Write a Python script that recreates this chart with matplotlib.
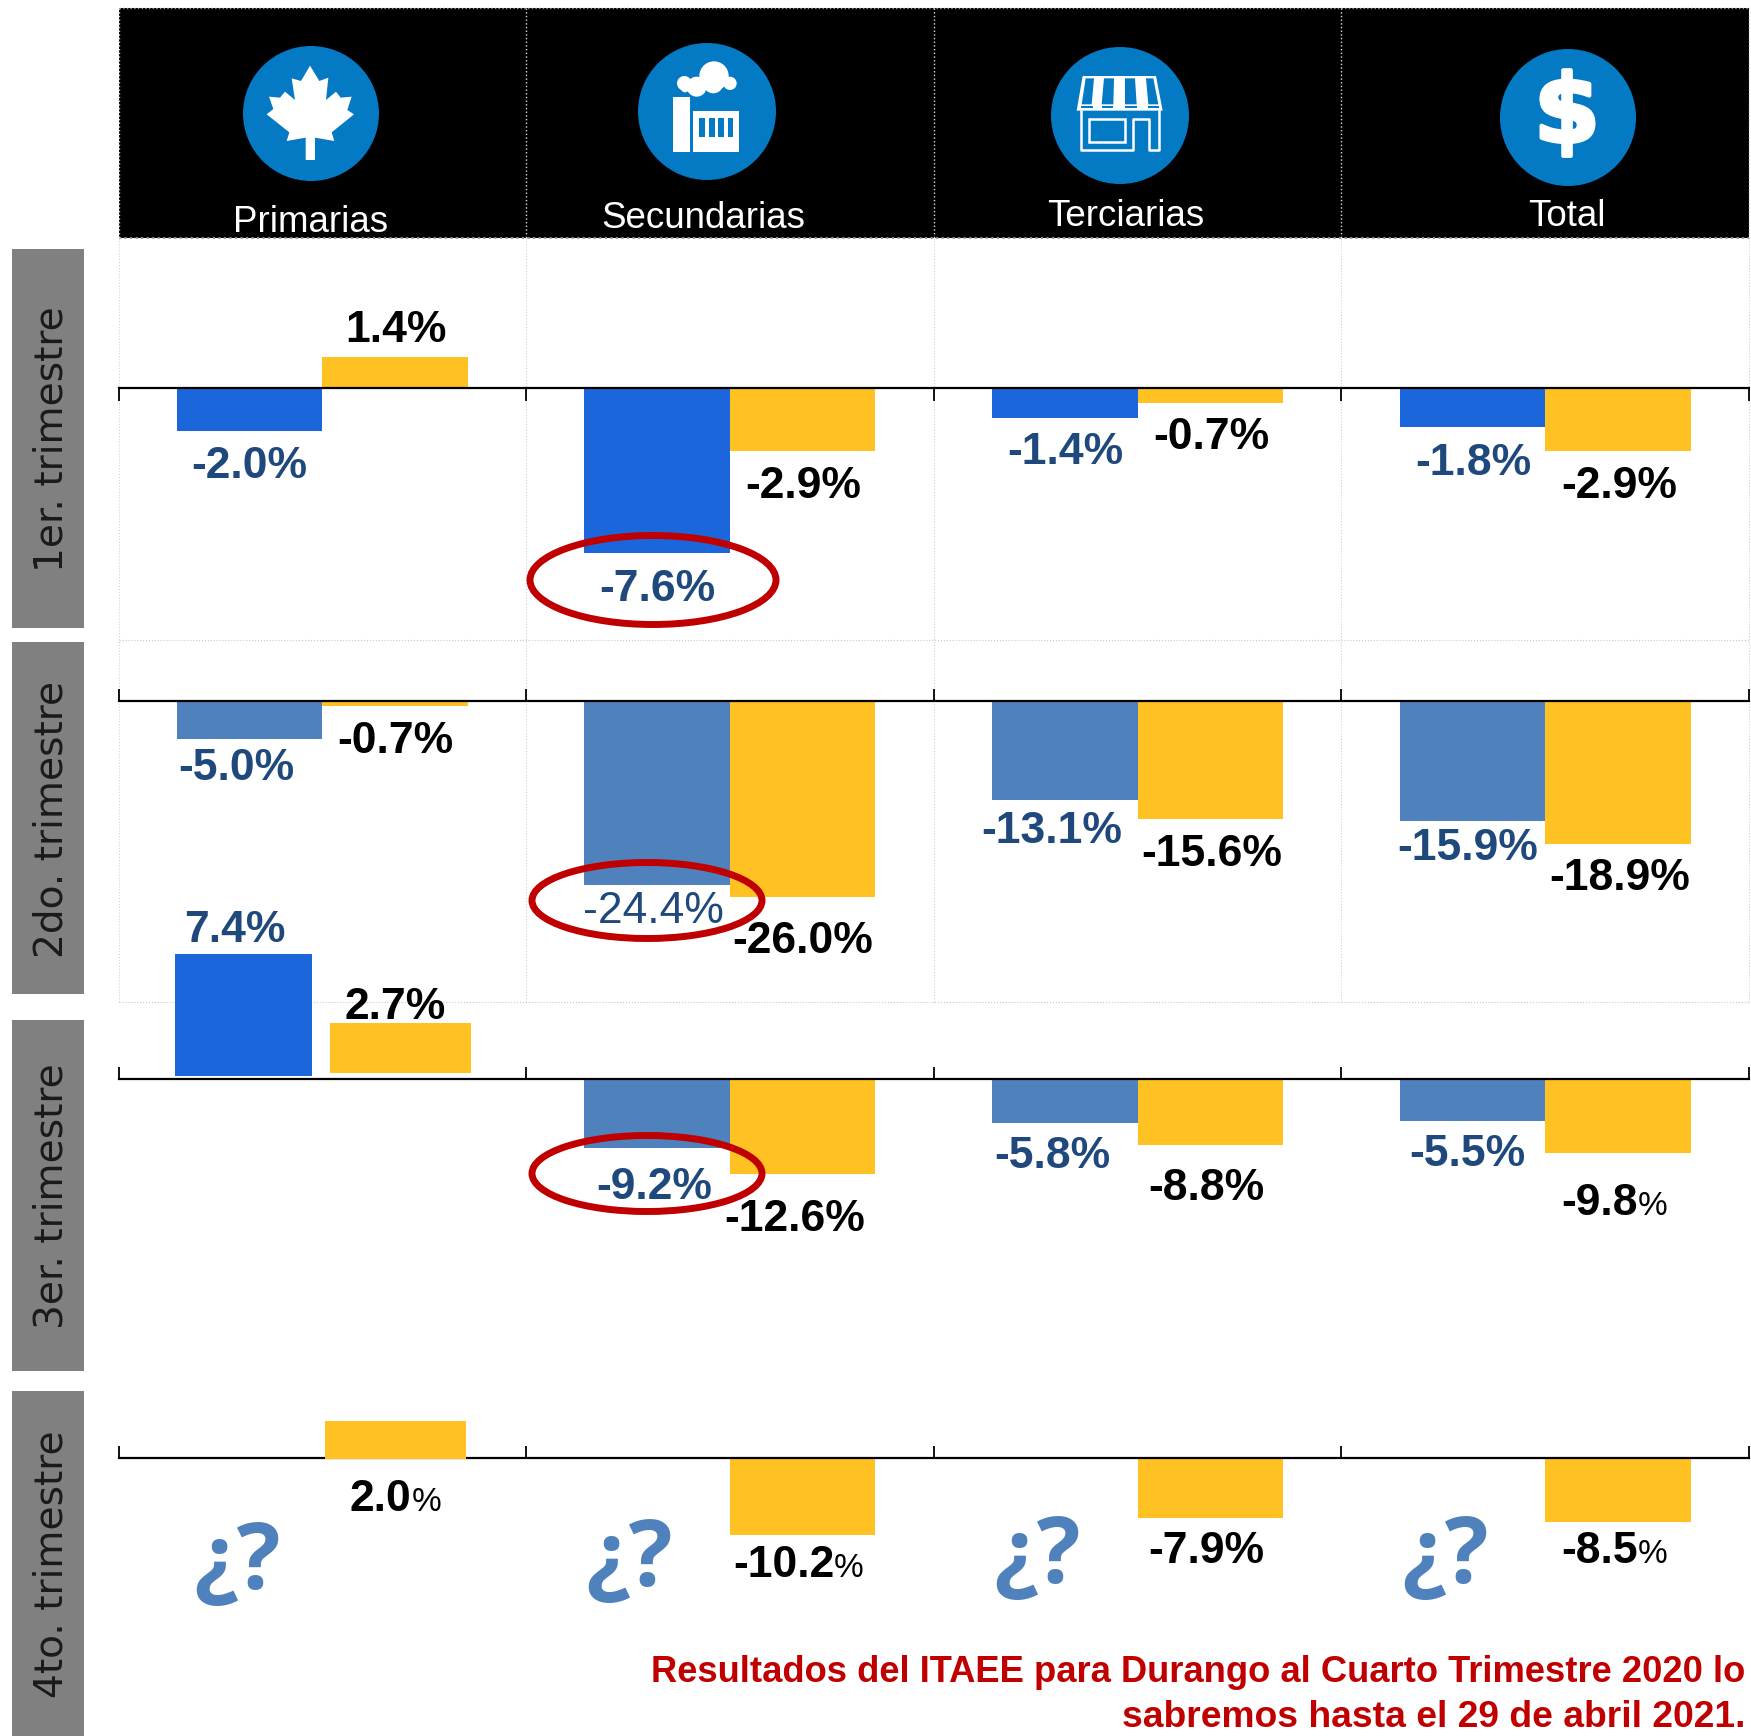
import matplotlib
matplotlib.use('Agg')
import matplotlib.pyplot as plt
import matplotlib.patheffects as pe
from matplotlib.patches import Rectangle, Ellipse, Polygon
import numpy as np

W, H = 1751, 1736

sectors = ['Primarias', 'Secundarias', 'Terciarias', 'Total']
quarters = ['1er. trimestre', '2do. trimestre', '3er. trimestre', '4to. trimestre']

# values per sector, nan = drawn apart or not published yet
q1_blue = [-2.0, -7.6, -1.4, -1.8]
q1_yellow = [1.4, -2.9, -0.7, -2.9]
q2_blue = [-5.0, -24.4, -13.1, -15.9]
q2_yellow = [-0.7, -26.0, -15.6, -18.9]
q3_blue = [np.nan, -9.2, -5.8, -5.5]
q3_yellow = [np.nan, -12.6, -8.8, -9.8]
q4_yellow = [np.nan, -10.2, -7.9, -8.5]
# the primary bars of Q3 and Q4 are separate shapes in the original
q3_primary_blue = 7.4
q3_primary_yellow = 2.7
q4_primary_yellow = 2.0

BLUE = '#1B66DB'
STEEL = '#4F81BD'
YELLOW = '#FFC222'
LABEL_BLUE = '#1F497D'
RED = '#C00000'
ICON = '#0479C4'
NARROW = ['Liberation Sans', 'DejaVu Sans']

fig = plt.figure(figsize=(W / 100, H / 100), dpi=100, facecolor='white')


def px_axes(x0, y0, x1, y1, z):
    ax = fig.add_axes([x0 / W, 1 - y1 / H, (x1 - x0) / W, (y1 - y0) / H], zorder=z)
    ax.patch.set_alpha(0)
    return ax


# background: header and grid
bg = px_axes(0, 0, W, H, 0)
bg.set_xlim(0, W)
bg.set_ylim(H, 0)
bg.axis('off')
LEFT, RIGHT = 118.5, 1749
col_w = (RIGHT - LEFT) / 4
edges = [LEFT + i * col_w for i in range(5)]
bg.add_patch(Rectangle((LEFT, 7.5), RIGHT - LEFT, 230.5, fc='black', ec='none'))
bg.plot([LEFT, RIGHT], [7.5, 7.5], color='#999999', lw=1, ls=':')
bg.plot([LEFT, RIGHT], [238, 238], color='#999999', lw=1.5, ls=':')
for x in edges:
    bg.plot([x, x], [8, 238], color='#DDDDDD', lw=1, ls=':')
    bg.plot([x, x], [238, 1002], color='#D0D0D0', lw=0.8, ls=':')
for y in (640, 1002):
    bg.plot([LEFT, RIGHT], [y, y], color='#C8C8C8', lw=0.8, ls=':')

# quarter side labels
boxes = [(249, 628), (642, 994), (1020, 1371), (1391, 1736)]
for name, (y0, y1) in zip(quarters, boxes):
    bg.add_patch(Rectangle((11.5, y0), 72, y1 - y0, fc='#808080', ec='none'))
    bg.text(51, (y0 + y1) / 2 + 1, name, rotation=90, ha='center', va='center',
            fontsize=28.2, color='#1A1A1A', family='DejaVu Sans')


def quarter_axes(top, bottom, base, scale, blue, yellow, blue_color, tick_dir):
    ax = px_axes(LEFT, top, RIGHT, bottom, 1)
    x = np.arange(4) + 0.5
    w = 0.357
    if blue is not None:
        ax.bar(x - w / 2, blue, w, color=blue_color)
    ax.bar(x + w / 2, yellow, w, color=YELLOW)
    ax.set_xlim(0, 4)
    ax.set_ylim(-(bottom - base) / scale, (base - top) / scale)
    for s in ('left', 'right', 'top'):
        ax.spines[s].set_visible(False)
    ax.spines['bottom'].set_position(('data', 0))
    ax.spines['bottom'].set_linewidth(1.6)
    ax.set_xticks(range(5))
    ax.set_xticklabels([])
    ax.set_yticks([])
    ax.tick_params(axis='x', direction=tick_dir, length=9, width=1.3)
    return ax


quarter_axes(238, 640, 387.5, 21.8, q1_blue, q1_yellow, BLUE, 'out')
quarter_axes(640, 1002, 701, 7.55, q2_blue, q2_yellow, STEEL, 'in')
quarter_axes(1002, 1380, 1079, 7.55, q3_blue, q3_yellow, STEEL, 'in')
quarter_axes(1400, 1700, 1458, 7.55, None, q4_yellow, STEEL, 'in')


def single_bar(value, color, x0, x1, top, base):
    ax = px_axes(x0, top, x1, base, 1.5)
    ax.bar([0], [value], 1, color=color)
    ax.set_xlim(-0.5, 0.5)
    ax.set_ylim(0, value)
    ax.axis('off')


single_bar(q3_primary_blue, BLUE, 175, 312, 954, 1076)
single_bar(q3_primary_yellow, YELLOW, 330, 471, 1023, 1073)
single_bar(q4_primary_yellow, YELLOW, 325, 466, 1421, 1459)

# overlay: icons, labels, ellipses
top = px_axes(0, 0, W, H, 3)
top.set_xlim(0, W)
top.set_ylim(H, 0)
top.axis('off')

circles = [(311, 113.5, 136, 135), (707, 111.5, 138, 137), (1120, 115.5, 138, 137), (1568, 117.5, 136, 137)]
for cx, cy, cw, ch in circles:
    top.add_patch(Ellipse((cx, cy), cw, ch, fc=ICON, ec='none'))


def icon_xy(points, ox, oy):
    return [(ox + a / 3, oy + b / 3) for a, b in points]


# maple leaf
leaf = [(210, 62), (238, 108), (265, 98), (258, 165), (288, 140), (302, 158), (335, 155),
        (322, 195), (342, 208), (275, 262), (283, 288), (225, 278), (225, 345), (197, 345),
        (197, 278), (140, 288), (148, 262), (80, 208), (100, 192), (87, 155), (120, 158),
        (135, 140), (165, 165), (155, 100), (183, 108)]
top.add_patch(Polygon(icon_xy(leaf, 240, 45), fc='white', ec='none'))

# factory
top.add_patch(Rectangle((635 + 115 / 3, 40 + 172 / 3), 51 / 3, 163 / 3, fc='white', ec='none'))
top.add_patch(Rectangle((635 + 175 / 3, 40 + 213 / 3), 137 / 3, 122 / 3, fc='white', ec='none'))
for sx in (193, 222, 250, 278):
    top.add_patch(Rectangle((635 + sx / 3, 40 + 235 / 3), 17 / 3, 57 / 3, fc=ICON, ec='none'))
for cx, cy, r in [(237, 108, 44), (285, 130, 20), (148, 130, 22), (185, 140, 30), (235, 130, 30), (150, 145, 12)]:
    top.add_patch(Ellipse((635 + cx / 3, 40 + cy / 3), 2 * r / 3, 2 * r / 3, fc='white', ec='none'))

# store
awning = [(98, 93), (318, 93), (338, 197), (80, 197)]
top.add_patch(Polygon(icon_xy(awning, 1050, 45), fc='white', ec='none'))
panes = [[(107, 100), (132, 100), (125, 178), (95, 178)],
         [(162, 100), (192, 100), (190, 178), (155, 178)],
         [(225, 100), (255, 100), (260, 178), (225, 178)],
         [(288, 100), (310, 100), (325, 178), (295, 178)]]
for p in panes:
    top.add_patch(Polygon(icon_xy(p, 1050, 45), fc=ICON, ec='none'))
for xa, xb in [(92, 130), (155, 190), (225, 262), (293, 328)]:
    top.add_patch(Rectangle((1050 + xa / 3, 45 + 183 / 3), (xb - xa) / 3, 7 / 3, fc=ICON, ec='none'))
body = [(92, 197), (92, 315), (250, 315), (250, 222), (298, 222), (298, 315), (328, 315), (328, 197)]
bx, by = zip(*icon_xy(body, 1050, 45))
top.plot(bx, by, color='white', lw=1.8)
top.add_patch(Rectangle((1050 + 118 / 3, 45 + 222 / 3), 107 / 3, 68 / 3, fc='none', ec='white', lw=1.8))

top.text(1567, 116, '$', color='white', fontsize=68, fontweight='bold', ha='center', va='center',
         family='DejaVu Sans', path_effects=[pe.withStroke(linewidth=3, foreground='white')])

header_xy = [(311, 222), (703, 218), (1126, 216), (1567, 217)]
for name, (x, y) in zip(sectors, header_xy):
    top.text(x, y, name, color='white', fontsize=26.5, ha='center', va='center', family=NARROW)

# data labels, centre positions on the shrunk picture
SH = W / 1568
label_vals = q1_blue + q1_yellow + q2_blue + q2_yellow + [q3_primary_blue] + q3_blue[1:] + \
    [q3_primary_yellow] + q3_yellow[1:] + [q4_primary_yellow] + q4_yellow[1:]
label_xy = [(223, 418), (589, 528), (954, 405), (1319, 415),
            (355, 296), (719, 436), (1085, 392), (1450, 436),
            (212, 688), (585, 816), (942, 745), (1314, 760),
            (354, 664), (719, 843), (1085, 765), (1450, 787),
            (210, 833), (586, 1063), (942, 1036), (1314, 1034),
            (354, 902), (712, 1092), (1080, 1064), (1446, 1078),
            (354, 1343), (715, 1402), (1080, 1389), (1446, 1389)]
label_blue = [True] * 4 + [False] * 4 + [True] * 4 + [False] * 4 + [True] * 4 + [False] * 8
light = {9}
small_pct = {23, 24, 25, 27}

renderer = fig.canvas.get_renderer()
for i, (v, (sx, sy)) in enumerate(zip(label_vals, label_xy)):
    color = LABEL_BLUE if label_blue[i] else 'black'
    weight = 'normal' if i in light else 'bold'
    x, y = sx * SH, sy * SH
    if i in small_pct:
        num = top.text(x, y, f'{v:.1f}', color=color, fontsize=32, fontweight=weight,
                       ha='right', va='center', family=NARROW)
        pct = top.text(x, y + 3, '%', color=color, fontsize=24, ha='left', va='center', family=NARROW)
        w1 = num.get_window_extent(renderer).width
        w2 = pct.get_window_extent(renderer).width
        num.set_x(x + (w1 - w2) / 2)
        pct.set_x(x + (w1 - w2) / 2)
    else:
        top.text(x, y, f'{v:.1f}%', color=color, fontsize=32, fontweight=weight,
                 ha='center', va='center', family=NARROW)

# question marks for the unknown Q4 results
for sx, sy in [(212, 1401), (563, 1399), (929, 1396), (1294, 1396)]:
    top.text(sx * SH, sy * SH, '¿?', color=STEEL, fontsize=66, fontweight='bold', ha='center',
             va='center', family=['Open Sans', 'DejaVu Sans'])

# red ellipses
for cx, cy, ew, eh in [(653, 580, 246, 89), (647, 900.5, 230, 76), (647, 1173.5, 230, 76)]:
    top.add_patch(Ellipse((cx, cy), ew, eh, fc='none', ec=RED, lw=5))

top.text(1745, 1672.5, 'Resultados del ITAEE para Durango al Cuarto Trimestre 2020 lo', color=RED,
         fontsize=26.2, fontweight='bold', ha='right', va='center', family=NARROW)
top.text(1745, 1717.5, 'sabremos hasta el 29 de abril 2021.', color=RED,
         fontsize=26.8, fontweight='bold', ha='right', va='center', family=NARROW)

fig.savefig('out.png', dpi=100)
